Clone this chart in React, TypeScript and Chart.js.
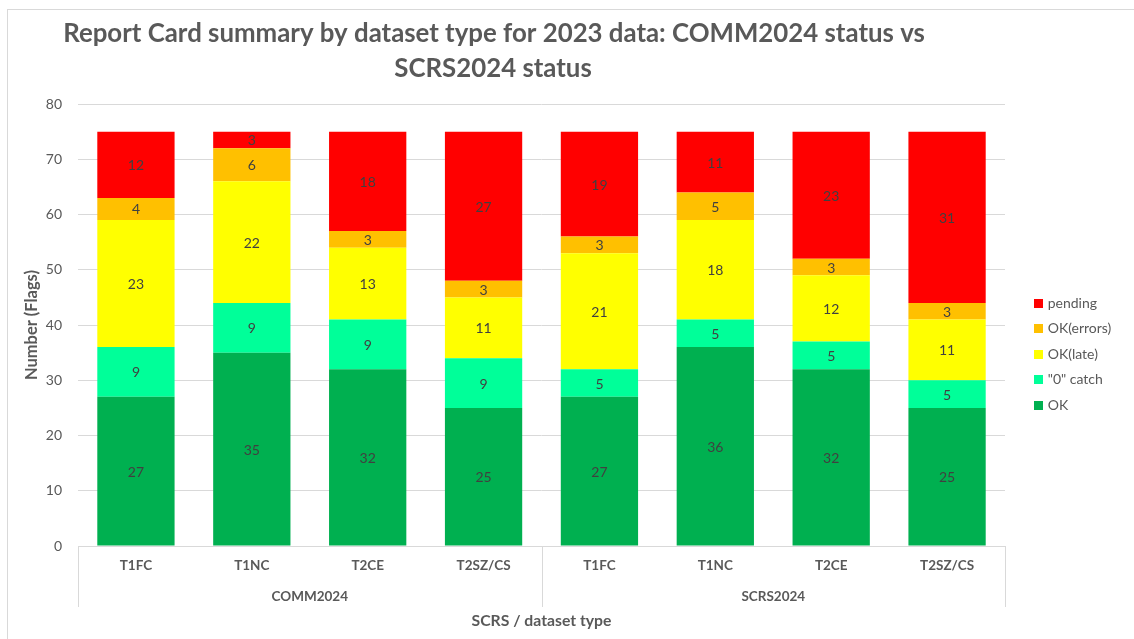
import React, { useEffect, useRef } from 'react';
import { Chart, registerables } from 'chart.js';

Chart.register(...registerables);

const titleLines = ['Report Card summary by dataset type for 2023 data: COMM2024 status vs', 'SCRS2024 status'];
const categories = ['T1FC', 'T1NC', 'T2CE', 'T2SZ/CS', 'T1FC', 'T1NC', 'T2CE', 'T2SZ/CS'];
const groups = ['COMM2024', 'SCRS2024'];
const groupSize = 4;
const seriesNames = ['OK', '"0" catch', 'OK(late)', 'OK(errors)', 'pending'];
const seriesColors = ['#00B050', '#00FF99', '#FFFF00', '#FFC000', '#FF0000'];
const okValues = [27, 35, 32, 25, 27, 36, 32, 25];
const zeroCatchValues = [9, 9, 9, 9, 5, 5, 5, 5];
const okLateValues = [23, 22, 13, 11, 21, 18, 12, 11];
const okErrorsValues = [4, 6, 3, 3, 3, 5, 3, 3];
const pendingValues = [12, 3, 18, 27, 19, 11, 23, 31];
const seriesValues = [okValues, zeroCatchValues, okLateValues, okErrorsValues, pendingValues];
const yMin = 0;
const yMax = 80;
const yStep = 10;
const yTitle = 'Number (Flags)';
const xTitle = 'SCRS / dataset type';

const FONT = 'Lato, "Open Sans", sans-serif';
const TEXT = '#595959';
const GRID = '#d9d9d9';
const W = 1126;
const H = 629;

function fitSize(text: string, weight: string, target: number, base: number) {
  const c = document.createElement('canvas');
  const ctx = c.getContext('2d')!;
  ctx.font = `${weight} ${base}px ${FONT}`;
  const w = ctx.measureText(text).width;
  return w > 0 ? (base * target) / w : base;
}

const decorations = {
  id: 'decorations',
  afterDatasetsDraw(chart: any) {
    const ctx = chart.ctx;
    ctx.save();
    ctx.font = `14px ${FONT}`;
    ctx.fillStyle = '#404040';
    ctx.textAlign = 'center';
    ctx.textBaseline = 'middle';
    chart.data.datasets.forEach((ds: any, i: number) => {
      const meta = chart.getDatasetMeta(i);
      meta.data.forEach((bar: any, j: number) => {
        const v = ds.data[j];
        if (!v) return;
        const p = bar.getProps(['x', 'y', 'base'], true);
        ctx.fillText(String(v), p.x, (p.y + p.base) / 2 + 1);
      });
    });
    ctx.restore();
  },
  afterDraw(chart: any) {
    const ctx = chart.ctx;
    const area = chart.chartArea;
    const xs = chart.scales.x;
    ctx.save();
    const sepBottom = 597;
    const seps: number[] = [area.left];
    for (let g = 1; g < groups.length; g++) {
      seps.push((xs.getPixelForValue(g * groupSize - 1) + xs.getPixelForValue(g * groupSize)) / 2);
    }
    seps.push(area.right);
    ctx.strokeStyle = GRID;
    ctx.lineWidth = 1;
    seps.forEach((sx) => {
      const px = Math.round(sx) + 0.5;
      ctx.beginPath();
      ctx.moveTo(px, area.bottom);
      ctx.lineTo(px, sepBottom);
      ctx.stroke();
    });
    ctx.font = `bold 13.5px ${FONT}`;
    ctx.fillStyle = TEXT;
    ctx.textAlign = 'center';
    ctx.textBaseline = 'middle';
    groups.forEach((g, gi) => {
      const cx = (seps[gi] + seps[gi + 1]) / 2;
      ctx.fillText(g, cx, 587);
    });
    ctx.font = `14px ${FONT}`;
    ctx.textAlign = 'left';
    const n = chart.data.datasets.length;
    for (let k = 0; k < n; k++) {
      const ds = chart.data.datasets[n - 1 - k];
      const cy = 293.3 + k * 25.5;
      ctx.fillStyle = ds.backgroundColor;
      ctx.fillRect(1026, Math.round(cy - 4.5), 9, 9);
      ctx.fillStyle = TEXT;
      ctx.fillText(ds.label, 1039.7, cy);
    }
    const size = fitSize(titleLines[0], 'bold', 862, 24);
    ctx.font = `bold ${size}px ${FONT}`;
    ctx.fillStyle = TEXT;
    ctx.textAlign = 'center';
    ctx.textBaseline = 'alphabetic';
    const capHalf = (size * 0.72) / 2;
    ctx.fillText(titleLines[0], 486, 23 + capHalf);
    ctx.fillText(titleLines[1], 485, 57.5 + capHalf);
    ctx.restore();
  },
};

export default function App() {
  const ref = useRef<HTMLCanvasElement | null>(null);
  useEffect(() => {
    if (!ref.current) return;
    const ySize = fitSize(yTitle, 'bold', 110, 16);
    const xSize = fitSize(xTitle, 'bold', 140, 16);
    const chart = new Chart(ref.current, {
      type: 'bar',
      data: {
        labels: categories,
        datasets: seriesNames.map((name, i) => ({
          label: name,
          data: seriesValues[i],
          backgroundColor: seriesColors[i],
          borderWidth: 0,
          barPercentage: 0.667,
          categoryPercentage: 1,
        })),
      },
      options: {
        responsive: false,
        animation: false,
        devicePixelRatio: 1,
        layout: { padding: { top: 94, right: W - 997, left: 0, bottom: 0 } },
        plugins: {
          legend: { display: false },
          title: { display: false },
          tooltip: { enabled: false },
        },
        scales: {
          x: {
            stacked: true,
            grid: { display: false, drawTicks: false },
            border: { display: true, color: GRID, width: 1 },
            ticks: {
              color: TEXT,
              font: { family: FONT, size: 13.5, weight: 'bold' },
              padding: 12,
              maxRotation: 0,
              autoSkip: false,
            },
            title: {
              display: true,
              text: xTitle,
              color: TEXT,
              font: { family: FONT, size: xSize, weight: 'bold', lineHeight: 1.2 },
              padding: { top: 0, bottom: 18.5 - (xSize * 1.2) / 2 },
            },
            afterFit: (s: any) => { s.height = H - 536; },
          },
          y: {
            stacked: true,
            min: yMin,
            max: yMax,
            grid: { color: GRID, lineWidth: 1, drawTicks: false },
            border: { display: false },
            ticks: {
              stepSize: yStep,
              color: TEXT,
              font: { family: FONT, size: 14 },
              padding: 16,
            },
            title: {
              display: true,
              text: yTitle,
              color: TEXT,
              font: { family: FONT, size: ySize, weight: 'bold', lineHeight: 1.2 },
              padding: { top: 24 - (ySize * 1.2) / 2, bottom: 0 },
            },
            afterFit: (s: any) => { s.width = 70; },
          },
        },
      } as any,
      plugins: [decorations],
    });
    return () => chart.destroy();
  }, []);
  return (
    <div
      style={{
        position: 'fixed',
        left: 7,
        top: 9,
        width: W + 1,
        height: H + 1,
        borderLeft: `1px solid ${GRID}`,
        borderTop: `1px solid ${GRID}`,
        boxSizing: 'border-box',
        background: '#fff',
        overflow: 'hidden',
      }}
    >
      <canvas ref={ref} width={W} height={H} style={{ display: 'block', width: W, height: H }} />
    </div>
  );
}
